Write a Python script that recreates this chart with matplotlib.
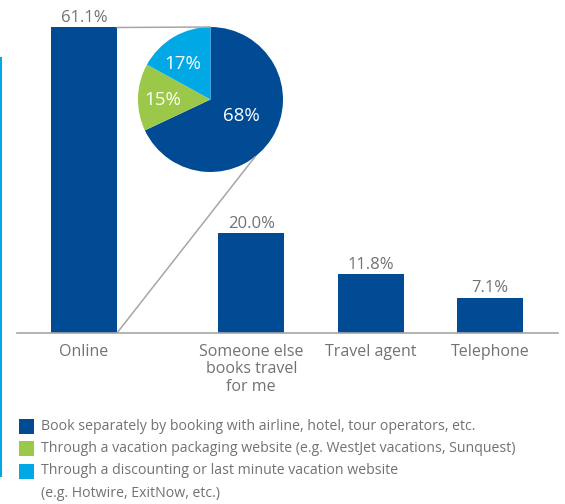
import matplotlib
matplotlib.use("Agg")
import matplotlib.pyplot as plt
import numpy as np
from matplotlib.patches import ConnectionPatch, Rectangle

plt.rcParams["font.family"] = ["Open Sans", "DejaVu Sans"]

# datos de las barras
categorias = ["Online", "Someone else\nbooks travel\nfor me", "Travel agent", "Telephone"]
valores = [61.1, 20.0, 11.8, 7.1]

# desglose de la reserva online
pie_valores = [68, 15, 17]
pie_etiquetas = [
    "Book separately by booking with airline, hotel, tour operators, etc.",
    "Through a vacation packaging website (e.g. WestJet vacations, Sunquest)",
    "Through a discounting or last minute vacation website\n(e.g. Hotwire, ExitNow, etc.)",
]

AZUL = "#004b93"
VERDE = "#9bc848"
CELESTE = "#00a9e6"
GRIS_TXT = "#727272"
GRIS_LINEA = "#a6a6a6"
pie_colores = [AZUL, VERDE, CELESTE]

W, H = 565, 504
fig = plt.figure(figsize=(W / 100, H / 100), dpi=100)


def caja(x0, y0, x1, y1):
    # pasa una caja en pixeles (origen arriba-izquierda) a coordenadas de figura
    return [x0 / W, 1 - y1 / H, (x1 - x0) / W, (y1 - y0) / H]


# barras
ax = fig.add_axes(caja(17, 0, 558, 333))
pos = np.array([0, 1.4, 2.4, 3.4])
ancho = 0.552
ax.bar(pos, valores, width=ancho, color=AZUL, zorder=2)
ax.set_xlim(-0.561, 3.967)
ax.set_ylim(0, 66.6)
for x, v in zip(pos, valores):
    ax.annotate(f"{v:.1f}%", (x, v), xytext=(0, 1), textcoords="offset points",
                ha="center", va="bottom", fontsize=12, color=GRIS_TXT)

ax.set_xticks(pos)
ax.set_xticklabels(categorias, fontsize=11.5, color=GRIS_TXT, linespacing=1.1)
ax.tick_params(axis="x", length=0, pad=8)
ax.set_yticks([])
for lado in ["top", "right", "left"]:
    ax.spines[lado].set_visible(False)
ax.spines["bottom"].set_color(GRIS_LINEA)
ax.spines["bottom"].set_linewidth(1.2)

# tarta del desglose
ax_pie = fig.add_axes(caja(138, 27, 283, 172))
ax_pie.pie(pie_valores, colors=pie_colores, startangle=90, counterclock=False,
           radius=1.0, wedgeprops=dict(linewidth=0))
pos_etiq = [(0.42, -0.23), (-0.66, -0.01), (-0.38, 0.49)]
for (tx, ty), v in zip(pos_etiq, pie_valores):
    ax_pie.text(tx, ty, f"{v}%", ha="center", va="center", fontsize=13.5, color="white")
ax_pie.set_xlim(-1, 1)
ax_pie.set_ylim(-1, 1)
ax_pie.set_aspect("equal")
ax_pie.axis("off")

# lineas que unen la barra online con la tarta
x_borde = pos[0] + ancho / 2
ang = np.deg2rad(-52)
for pa, pb in [((x_borde, valores[0]), (0, 1)),
               ((x_borde, 0), (np.cos(ang), np.sin(ang)))]:
    con = ConnectionPatch(xyA=pa, coordsA=ax.transData, xyB=pb, coordsB=ax_pie.transData,
                          color=GRIS_LINEA, linewidth=1.1, zorder=1)
    fig.add_artist(con)

# barra lateral
fig.add_artist(Rectangle((0, 1 - 477 / H), 2.2 / W, (477 - 57) / H,
                         transform=fig.transFigure, color=CELESTE, linewidth=0))

# leyenda
y = 426
for color, texto in zip(pie_colores, pie_etiquetas):
    fig.add_artist(Rectangle((19 / W, 1 - (y + 7.5) / H), 15 / W, 15 / H,
                             transform=fig.transFigure, color=color, linewidth=0))
    for linea in texto.split("\n"):
        fig.text(41 / W, 1 - y / H, linea, ha="left", va="center",
                 fontsize=10.2, color=GRIS_TXT)
        y += 22.5

fig.savefig("out.png", dpi=100)
